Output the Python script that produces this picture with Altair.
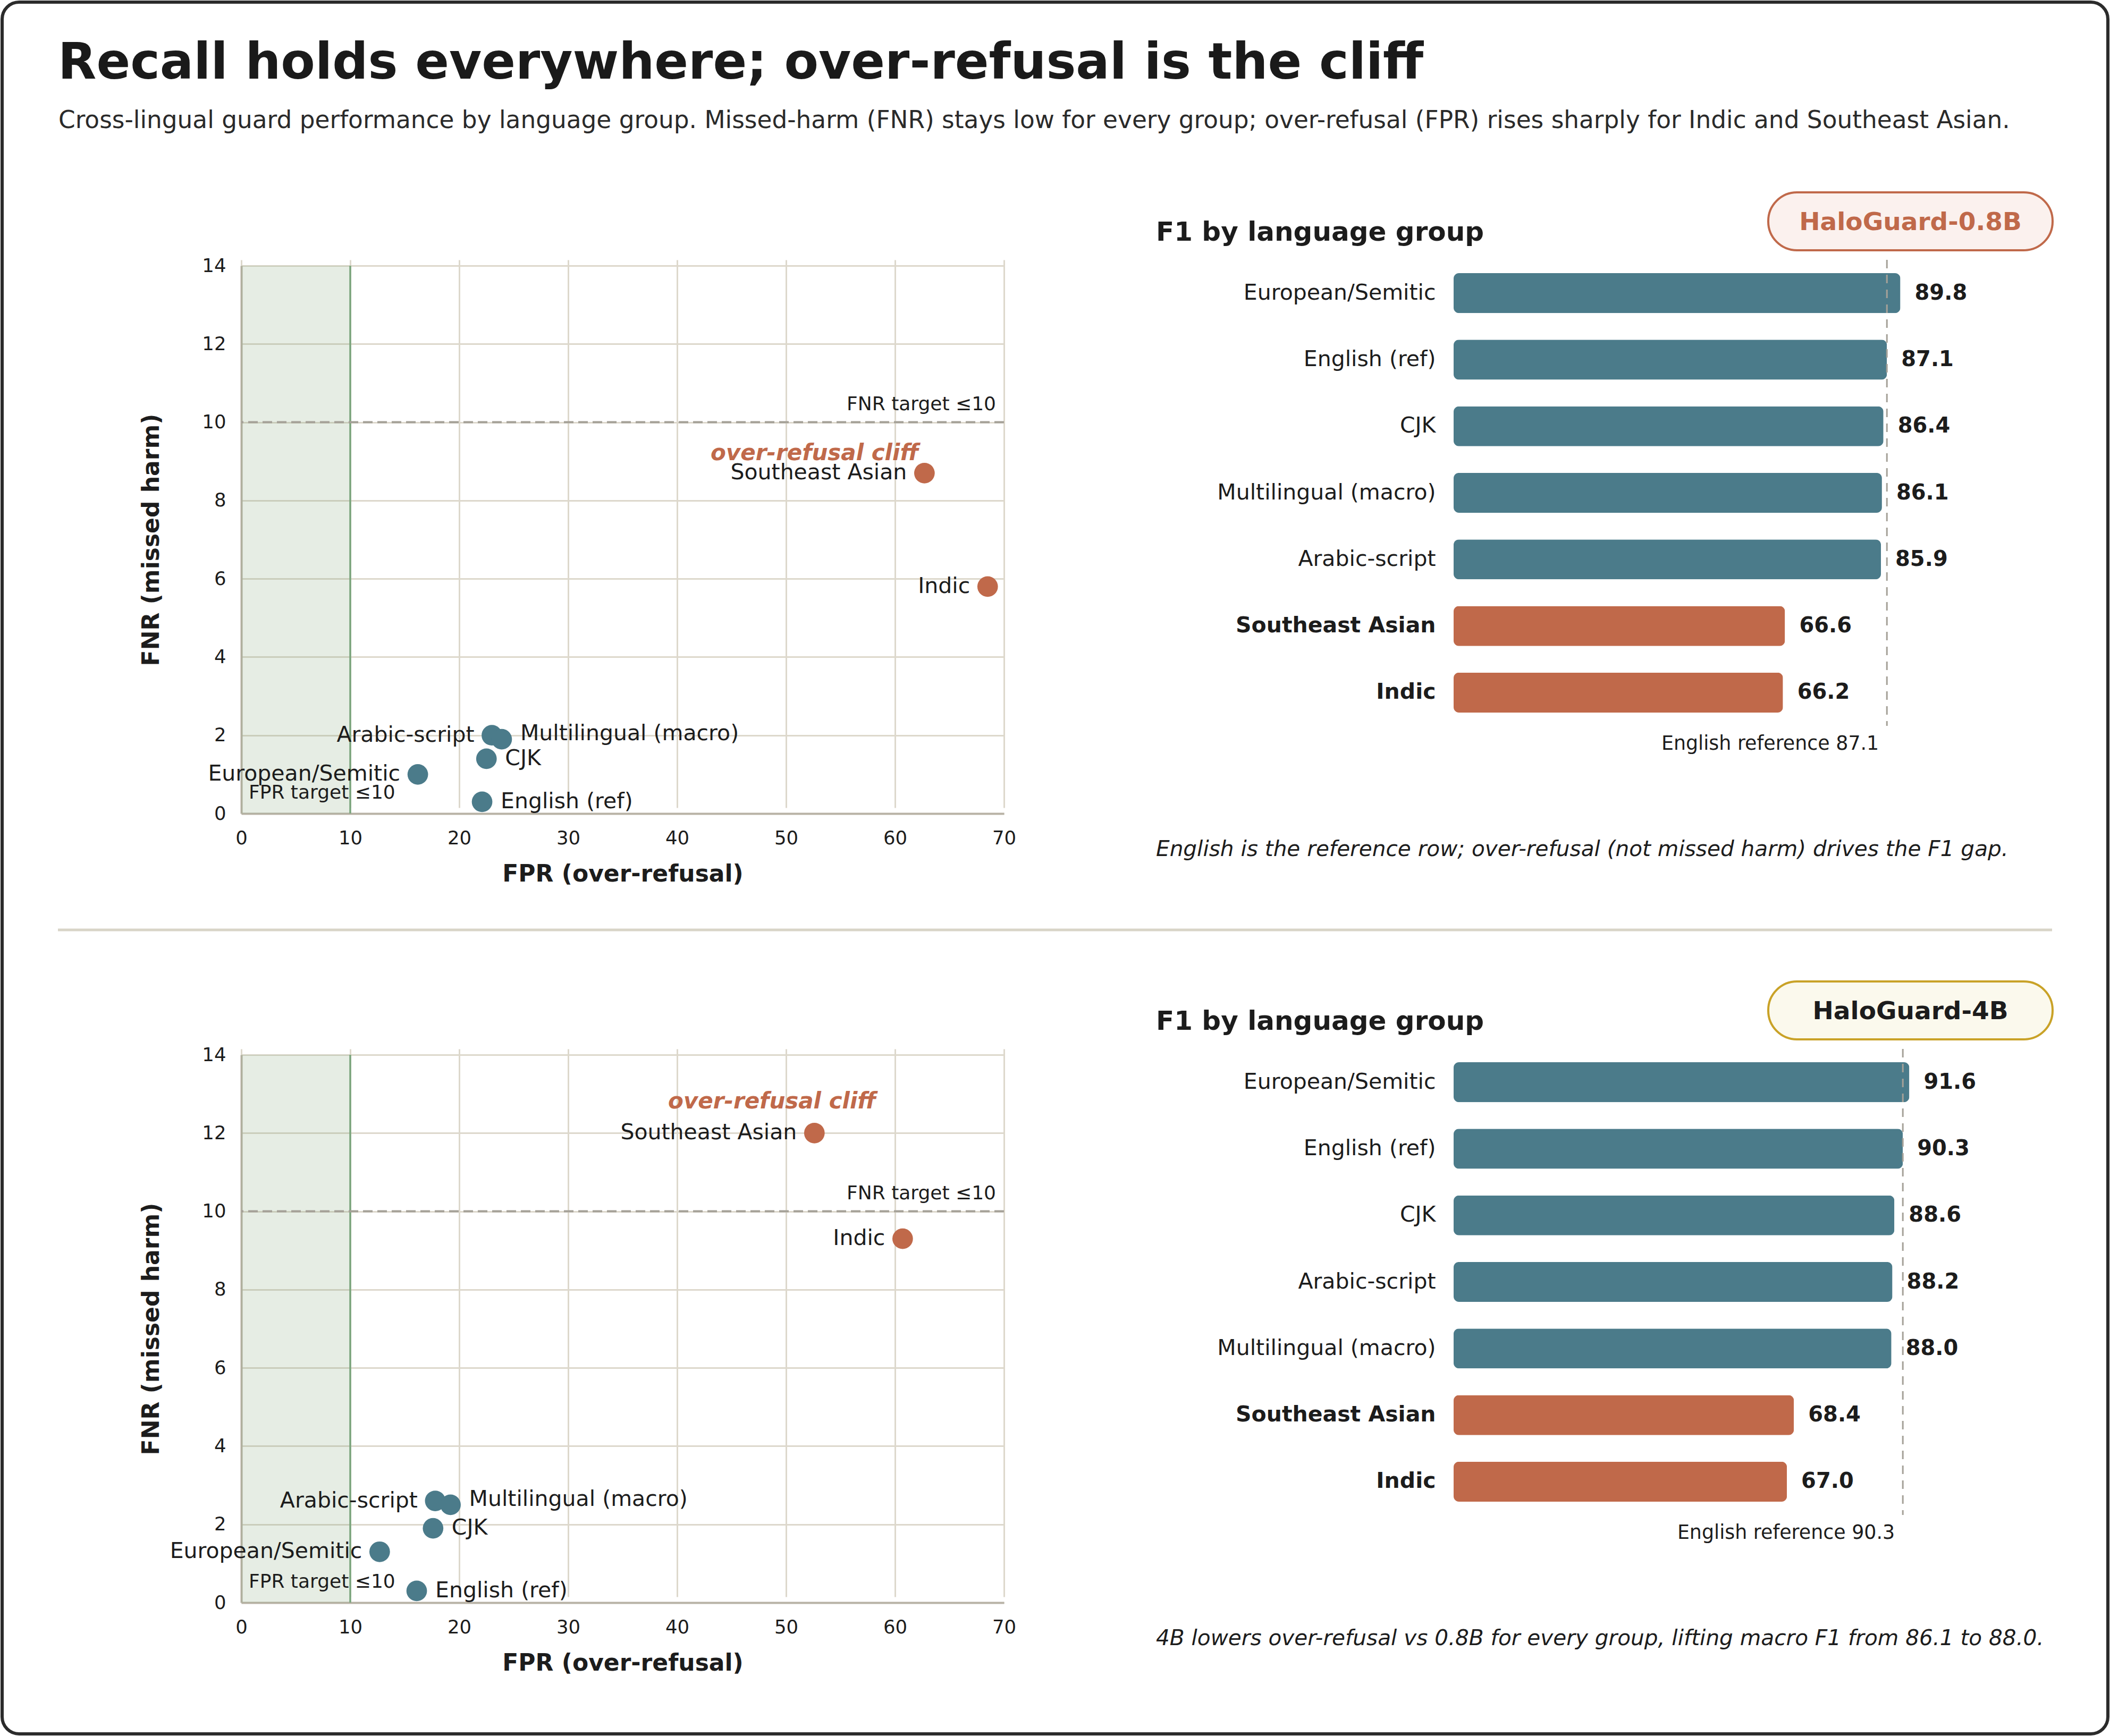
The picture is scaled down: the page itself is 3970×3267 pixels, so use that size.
import json
import altair as alt
import pandas as pd

# ---------------- data ----------------
GROUPS = ["European/Semitic", "English (ref)", "CJK", "Arabic-script",
          "Multilingual (macro)", "Southeast Asian", "Indic"]
CLIFF_GROUPS = ["Southeast Asian", "Indic"]
REF_GROUP = "English (ref)"
CLIFF_ANCHOR = "Southeast Asian"

MODELS = ["HaloGuard-0.8B", "HaloGuard-4B"]

FPR_08 = [16.2, 22.1, 22.5, 23.0, 23.9, 62.7, 68.5]
FNR_08 = [1.0, 0.3, 1.4, 2.0, 1.9, 8.7, 5.8]
F1_08 = [89.8, 87.1, 86.4, 85.9, 86.1, 66.6, 66.2]

FPR_4B = [12.7, 16.1, 17.6, 17.8, 19.2, 52.6, 60.7]
FNR_4B = [1.3, 0.3, 1.9, 2.6, 2.5, 12.0, 9.3]
F1_4B = [91.6, 90.3, 88.6, 88.2, 88.0, 68.4, 67.0]

FPR_TARGET = 10
FNR_TARGET = 10
X_TICKS = [0, 10, 20, 30, 40, 50, 60, 70]
Y_TICKS = [0, 2, 4, 6, 8, 10, 12, 14]
F1_DOMAIN = [0, 100]

TITLE = "Recall holds everywhere; over-refusal is the cliff"
SUBTITLE = ("Cross-lingual guard performance by language group. Missed-harm (FNR) stays low "
            "for every group; over-refusal (FPR) rises sharply for Indic and Southeast Asian.")
X_TITLE = "FPR (over-refusal)"
Y_TITLE = "FNR (missed harm)"
BAR_HEADER = "F1 by language group"
CLIFF_NOTE = "over-refusal cliff"
FNR_NOTE = "FNR target \u226410"
FPR_NOTE = "FPR target \u226410"
REF_PREFIX = "English reference "
NOTES = ["English is the reference row; over-refusal (not missed harm) drives the F1 gap.",
         "4B lowers over-refusal vs 0.8B for every group, lifting macro F1 from 86.1 to 88.0."]

# ---------------- style ----------------
FONT = "DejaVu Sans"
TEAL = "#4b7b8a"
ORANGE = "#c0694a"
INK = "#1c1c1c"
GRID = "#ddd8cc"
DOMAIN = "#b8b2a5"
GREEN_TINT = "#82a578"
GREEN_LINE = "#7aa57d"
DASH = "#a5a198"
DIVIDER = "#d8d4c7"
BORDER = "#2b2b2b"
PILL_STYLE = [dict(fill="#fbf1ee", stroke=ORANGE, text=ORANGE),
              dict(fill="#fbf9ed", stroke="#c9a227", text=INK)]

LABEL_SIDE = {"European/Semitic": "left", "English (ref)": "right", "CJK": "right",
              "Arabic-script": "left", "Multilingual (macro)": "right",
              "Southeast Asian": "left", "Indic": "left"}
LABEL_LIFT = ["Multilingual (macro)"]
CLIFF_NOTE_OFFSET = [(-11, -37), (116, -59)]

# geometry in pixels
SC_W, SC_H, SC_TOP = 1435, 1042, 11
BAR_W, BAR_H = 936, 877
COL_GAP, ROW_GAP = 846, 443
OX, OY = 454, 489            # top-left of first panel on the page
BX = OX + SC_W + COL_GAP     # left of bar panels on the page


def one(**kw):
    return pd.DataFrame({k: [v] for k, v in kw.items()})


def scatter_panel(i, fpr, fnr, first):
    df = pd.DataFrame({"group": GROUPS, "fpr": fpr, "fnr": fnr})
    df["tier"] = ["cliff" if g in CLIFF_GROUPS else "core" for g in GROUPS]
    df["side"] = [LABEL_SIDE[g] for g in GROUPS]
    df["lift"] = [g in LABEL_LIFT for g in GROUPS]

    xs = alt.Scale(domain=[X_TICKS[0], X_TICKS[-1]], nice=False, zero=False)
    ys = alt.Scale(domain=[Y_TICKS[0], Y_TICKS[-1]], range=[SC_H, SC_TOP], nice=False, zero=False)
    common = dict(ticks=False, tickSize=0, labelFontSize=35.5, labelColor=INK, labelFlush=False,
                  labelOverlap=False, domainColor=DOMAIN, domainWidth=4, gridColor=GRID,
                  gridWidth=3, titleFontSize=44, titleFontWeight="bold", titleColor=INK,
                  titleBaseline="alphabetic", format="d")
    xaxis = alt.Axis(values=X_TICKS, title=X_TITLE, labelPadding=29, titleY=127, **common)
    yaxis = alt.Axis(values=Y_TICKS, title=Y_TITLE, labelPadding=29, titleX=-156, **common)

    def X(f):
        return alt.X(f, type="quantitative", scale=xs, axis=xaxis)

    def Y(f):
        return alt.Y(f, type="quantitative", scale=ys, axis=yaxis)

    band_df = one(x0=X_TICKS[0], x1=FPR_TARGET, y0=Y_TICKS[0], y1=Y_TICKS[-1])
    band = alt.Chart(band_df).mark_rect(color=GREEN_TINT, opacity=0.2).encode(
        x=X("x0"), x2=alt.X2("x1"), y=Y("y0"), y2=alt.Y2("y1"))
    fpr_line = alt.Chart(band_df).mark_rule(color=GREEN_LINE, strokeWidth=3.5).encode(
        x=X("x1"), y=Y("y0"), y2=alt.Y2("y1"))
    fnr_line = alt.Chart(one(t=FNR_TARGET)).mark_rule(
        color=DASH, strokeWidth=4, strokeDash=[18, 9]).encode(y=Y("t"))

    base = alt.Chart(df)
    pts = base.mark_circle(size=1500, opacity=1).encode(
        x=X("fpr"), y=Y("fnr"),
        color=alt.Color("tier:N", scale=alt.Scale(domain=["core", "cliff"], range=[TEAL, ORANGE]),
                        legend=None))
    txt = dict(fontSize=41, color=INK, baseline="middle")
    lab_left = base.transform_filter("datum.side == 'left'").mark_text(
        align="right", dx=-33, **txt).encode(x=X("fpr"), y=Y("fnr"), text="group:N")
    lab_right = base.transform_filter("datum.side == 'right' && !datum.lift").mark_text(
        align="left", dx=35, **txt).encode(x=X("fpr"), y=Y("fnr"), text="group:N")
    lab_lift = base.transform_filter("datum.side == 'right' && datum.lift").mark_text(
        align="left", dx=35, dy=-10, **txt).encode(x=X("fpr"), y=Y("fnr"), text="group:N")
    ndx, ndy = CLIFF_NOTE_OFFSET[i]
    cliff = base.transform_filter(alt.datum.group == CLIFF_ANCHOR).mark_text(
        align="right", baseline="middle", dx=ndx, dy=ndy, fontSize=42, fontWeight="bold",
        fontStyle="italic", color=ORANGE).encode(x=X("fpr"), y=Y("fnr"), text=alt.value(CLIFF_NOTE))
    fnr_note = alt.Chart(one(x=X_TICKS[-1], y=FNR_TARGET, t=FNR_NOTE)).mark_text(
        align="right", baseline="middle", dx=-15, dy=-34, fontSize=36, color=INK).encode(
        x=X("x"), y=Y("y"), text="t:N")
    fpr_note = alt.Chart(one(x=X_TICKS[0], y=Y_TICKS[0], t=FPR_NOTE)).mark_text(
        align="left", baseline="middle", dx=14, dy=-39, fontSize=36, color=INK).encode(
        x=X("x"), y=Y("y"), text="t:N")

    layers = [band, fpr_line, fnr_line, pts, lab_left, lab_right, lab_lift, cliff,
              fnr_note, fpr_note]

    if first:
        border = alt.Chart(one(t=0)).mark_rect(
            fill="transparent", stroke=BORDER, strokeWidth=6, cornerRadius=32).encode(
            x=alt.value(4 - OX), x2=alt.value(3966 - OX),
            y=alt.value(4 - OY), y2=alt.value(3263 - OY))
        divider = alt.Chart(one(t=0)).mark_rule(color=DIVIDER, strokeWidth=5).encode(
            x=alt.value(109 - OX), x2=alt.value(3861 - OX), y=alt.value(1750 - OY))
        title = alt.Chart(one(t=TITLE)).mark_text(
            align="left", baseline="alphabetic", fontSize=94, fontWeight="bold",
            color="#1a1a1a").encode(x=alt.value(109 - OX), y=alt.value(148 - OY), text="t:N")
        subtitle = alt.Chart(one(t=SUBTITLE)).mark_text(
            align="left", baseline="alphabetic", fontSize=45.4, color="#2a2a2a").encode(
            x=alt.value(110 - OX), y=alt.value(241 - OY), text="t:N")
        layers = [border, divider, title, subtitle] + layers

    return alt.layer(*layers).properties(width=SC_W, height=SC_H)


def bar_panel(i, f1):
    df = pd.DataFrame({"group": GROUPS, "f1": f1})
    df["tier"] = ["cliff" if g in CLIFF_GROUPS else "core" for g in GROUPS]
    order = df.sort_values("f1", ascending=False)["group"].tolist()

    xs = alt.Scale(domain=F1_DOMAIN, nice=False)
    ys = alt.Scale(domain=order, paddingInner=0.4, paddingOuter=0.2)
    weight = {"condition": {"test": "indexof(%s, datum.value) >= 0" % json.dumps(CLIFF_GROUPS),
                            "value": "bold"}, "value": "normal"}
    yaxis = alt.Axis(title=None, domain=False, ticks=False, tickSize=0, grid=False,
                     labelFontSize=41, labelPadding=34, labelColor=INK, labelLimit=0,
                     labelFontWeight=weight)
    X = alt.X("f1:Q", scale=xs, axis=None)
    Y = alt.Y("group:N", scale=ys, sort=order, axis=yaxis)

    base = alt.Chart(df)
    bars = base.mark_bar(cornerRadius=10).encode(
        x=X, y=Y,
        color=alt.Color("tier:N", scale=alt.Scale(domain=["core", "cliff"], range=[TEAL, ORANGE]),
                        legend=None))
    vals = base.mark_text(align="left", baseline="middle", dx=27, fontSize=40,
                          fontWeight="bold", color=INK).encode(
        x=X, y=Y, text=alt.Text("f1:Q", format=".1f"))
    ref = base.transform_filter(alt.datum.group == REF_GROUP)
    ref_rule = ref.mark_rule(color=DASH, strokeWidth=3, strokeDash=[16, 12]).encode(x=X)
    ref_text = ref.transform_calculate(
        lab="'%s' + format(datum.f1, '.1f')" % REF_PREFIX).mark_text(
        align="right", baseline="middle", dx=-15, fontSize=36.4, color=INK).encode(
        x=X, y=alt.value(BAR_H + 34), text="lab:N")

    header = alt.Chart(one(t=BAR_HEADER)).mark_text(
        align="left", baseline="alphabetic", fontSize=50, fontWeight="bold", color=INK).encode(
        x=alt.value(2175 - BX), y=alt.value(-36), text="t:N")
    st = PILL_STYLE[i]
    pill = alt.Chart(one(t=MODELS[i])).mark_rect(
        fill=st["fill"], stroke=st["stroke"], strokeWidth=4, cornerRadius=54).encode(
        x=alt.value(3327 - BX), x2=alt.value(3862 - BX), y=alt.value(-127), y2=alt.value(-18))
    pill_text = alt.Chart(one(t=MODELS[i])).mark_text(
        align="center", baseline="middle", fontSize=47, fontWeight="bold", color=st["text"]).encode(
        x=alt.value((3327 + 3862) / 2 - BX), y=alt.value(-70), text="t:N")
    note = alt.Chart(one(t=NOTES[i])).mark_text(
        align="left", baseline="alphabetic", fontSize=40.6, fontStyle="italic", color=INK).encode(
        x=alt.value(2175 - BX), y=alt.value(1122), text="t:N")

    return alt.layer(bars, vals, ref_rule, ref_text, header, pill, pill_text, note).properties(
        width=BAR_W, height=BAR_H)


chart = alt.concat(
    scatter_panel(0, FPR_08, FNR_08, True), bar_panel(0, F1_08),
    scatter_panel(1, FPR_4B, FNR_4B, False), bar_panel(1, F1_4B),
    columns=2, spacing={"row": ROW_GAP, "column": COL_GAP}, bounds="flush", align="each",
).properties(
    padding={"left": 1, "top": 1, "right": 1, "bottom": 1}
).configure(
    font=FONT, background="white"
).configure_view(strokeWidth=0)

chart.save("out.html", embed_options={"renderer": "svg", "actions": False})
